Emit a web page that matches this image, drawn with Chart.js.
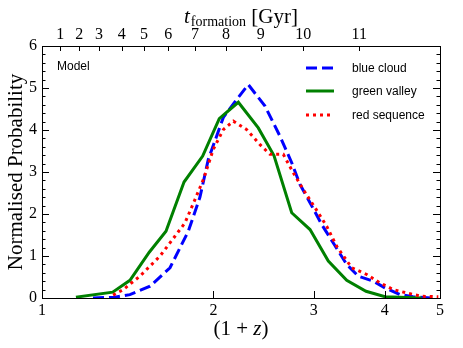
<!DOCTYPE html>
<html>
<head>
<meta charset="utf-8">
<script src="https://cdn.jsdelivr.net/npm/chart.js@4.4.1/dist/chart.umd.min.js"></script>
<style>
  html, body { margin: 0; padding: 0; background: #fff; }
  #wrap { width: 463px; height: 348px; }
</style>
</head>
<body>
<div id="wrap"><canvas id="myChart"></canvas></div>
<script>
'use strict';

// (1+z) values and normalised probability
const blueX = [1.229, 1.343, 1.427, 1.548, 1.678, 1.807, 1.894, 1.959, 2.082, 2.198, 2.303, 2.464, 2.618, 2.745, 2.839, 2.956, 3.099, 3.248, 3.428, 3.593, 3.818, 4.003, 4.254, 4.483, 4.822];
const blueY = [0.0, 0.02, 0.08, 0.28, 0.72, 1.59, 2.4, 3.3, 4.3, 4.73, 5.08, 4.57, 3.85, 3.22, 2.7, 2.27, 1.75, 1.31, 0.80, 0.52, 0.40, 0.24, 0.08, 0.03, 0.0];

const greenX = [1.147, 1.331, 1.427, 1.543, 1.651, 1.776, 1.915, 2.048, 2.212, 2.398, 2.555, 2.745, 2.956, 3.183, 3.429, 3.707, 4.003, 4.643];
const greenY = [0.02, 0.14, 0.42, 1.09, 1.59, 2.76, 3.38, 4.27, 4.66, 4.05, 3.39, 2.03, 1.63, 0.88, 0.42, 0.16, 0.03, 0.0];

const redX = [1.333, 1.389, 1.486, 1.612, 1.712, 1.783, 1.857, 1.920, 1.999, 2.082, 2.168, 2.288, 2.415, 2.514, 2.653, 2.763, 2.877, 3.016, 3.162, 3.293, 3.499, 3.718, 3.923, 4.140, 4.371, 4.643, 4.966];
const redY = [0.07, 0.2, 0.52, 1.0, 1.47, 1.79, 2.35, 2.82, 3.54, 4.01, 4.21, 4.01, 3.65, 3.42, 3.42, 2.98, 2.58, 2.15, 1.71, 1.23, 0.72, 0.56, 0.36, 0.2, 0.12, 0.04, 0.03];

// axis ticks
const xTicks = [1, 2, 3, 4, 5];
const yTicks = [0, 1, 2, 3, 4, 5, 6];
// top axis: formation time [Gyr] and where it sits in (1+z)
const tLabels = ['1', '2', '3', '4', '5', '6', '7', '8', '9', '10', '11'];
const tPos = [1.0768, 1.1628, 1.2592, 1.3803, 1.5106, 1.6665, 1.8566, 2.1045, 2.4215, 2.8767, 3.6078];

const seriesNames = ['blue cloud', 'green valley', 'red sequence'];

const SERIF = "'Liberation Serif', 'DejaVu Serif', serif";
const SANS = "'Liberation Sans', Arial, sans-serif";

function pts(xs, ys) {
    return xs.map((x, i) => ({ x: x, y: ys[i] }));
}

/**
 * 枠の内向きの目盛り・タイトル・凡例
 */
const decorations = {
    id: 'decorations',
    afterDatasetsDraw(chart) {
        const { ctx, chartArea: a, scales } = chart;
        ctx.save();
        ctx.strokeStyle = '#000';
        ctx.lineWidth = 1;
        ctx.beginPath();
        // left / right: major every 1, minor every 0.2
        for (let k = 0; k <= 30; k++) {
            const v = k / 5;
            const y = Math.round(scales.y.getPixelForValue(v)) + 0.5;
            const len = (k % 5 === 0) ? 7 : 3.5;
            ctx.moveTo(a.left, y); ctx.lineTo(a.left + len, y);
            ctx.moveTo(a.right, y); ctx.lineTo(a.right - len, y);
        }
        // bottom
        xTicks.forEach(v => {
            const x = Math.round(scales.x.getPixelForValue(v)) + 0.5;
            ctx.moveTo(x, a.bottom); ctx.lineTo(x, a.bottom - 7);
        });
        // top
        tPos.forEach(v => {
            const x = Math.round(scales.x2.getPixelForValue(v)) + 0.5;
            ctx.moveTo(x, a.top); ctx.lineTo(x, a.top + 5);
        });
        ctx.stroke();

        // top title: t_formation [Gyr]
        ctx.fillStyle = '#000';
        ctx.textBaseline = 'alphabetic';
        ctx.textAlign = 'left';
        const fT = 'italic 21px ' + SERIF;
        const fSub = '14px ' + SERIF;
        const fR = '21px ' + SERIF;
        ctx.font = fT; const w1 = ctx.measureText('t').width;
        ctx.font = fSub; const w2 = ctx.measureText('formation').width;
        ctx.font = fR; const w3 = ctx.measureText(' [Gyr]').width;
        const cx = (a.left + a.right) / 2;
        let x0 = cx - (w1 + 1 + w2 + w3) / 2;
        const base = 23;
        ctx.font = fT; ctx.fillText('t', x0, base); x0 += w1 + 1;
        ctx.font = fSub; ctx.fillText('formation', x0, base + 3); x0 += w2;
        ctx.font = fR; ctx.fillText(' [Gyr]', x0, base);

        // bottom title: (1 + z)
        const pA = '(1 + ', pB = 'z', pC = ')';
        ctx.font = fR; const b1 = ctx.measureText(pA).width;
        ctx.font = fT; const b2 = ctx.measureText(pB).width;
        ctx.font = fR; const b3 = ctx.measureText(pC).width;
        let bx = cx - (b1 + b2 + b3) / 2;
        const bb = 335;
        ctx.font = fR; ctx.fillText(pA, bx, bb); bx += b1;
        ctx.font = fT; ctx.fillText(pB, bx, bb); bx += b2;
        ctx.font = fR; ctx.fillText(pC, bx, bb);

        // "Model" label
        ctx.font = '12px ' + SANS;
        ctx.textBaseline = 'middle';
        ctx.fillText('Model', 57, 67);

        // legend
        const rows = [68, 91, 115];
        chart.data.datasets.forEach((ds, i) => {
            const y = rows[i];
            ctx.save();
            ctx.strokeStyle = ds.borderColor;
            ctx.lineWidth = ds.borderWidth;
            ctx.setLineDash(ds.borderDash || []);
            ctx.lineCap = 'butt';
            ctx.beginPath();
            ctx.moveTo(306, y); ctx.lineTo(334, y);
            ctx.stroke();
            ctx.restore();
            ctx.fillStyle = '#000';
            ctx.font = '12px ' + SANS;
            ctx.fillText(ds.label, 352, y + 1);
        });
        ctx.restore();
    }
};

const ctx = document.getElementById('myChart');
new Chart(ctx, {
    type: 'line',
    data: {
        datasets: [
            {
                label: seriesNames[0],
                data: pts(blueX, blueY),
                borderColor: '#0000ff',
                borderWidth: 3,
                borderDash: [11, 5],
                order: 3
            },
            {
                label: seriesNames[1],
                data: pts(greenX, greenY),
                borderColor: '#008000',
                borderWidth: 3,
                order: 2
            },
            {
                label: seriesNames[2],
                data: pts(redX, redY),
                borderColor: '#ff0000',
                borderWidth: 3,
                borderDash: [3, 4],
                order: 1
            }
        ]
    },
    options: {
        responsive: true,
        maintainAspectRatio: false,
        animation: false,
        layout: { padding: 0 },
        elements: {
            point: { radius: 0 },
            line: { tension: 0, fill: false, borderCapStyle: 'butt' }
        },
        plugins: {
            legend: { display: false },
            tooltip: { enabled: false }
        },
        scales: {
            x: {
                type: 'logarithmic',
                position: 'bottom',
                min: 1,
                max: 5,
                afterBuildTicks: s => { s.ticks = xTicks.map(v => ({ value: v })); },
                afterFit: s => { s.height = 50; },
                ticks: {
                    autoSkip: false,
                    maxRotation: 0,
                    padding: 3,
                    color: '#000',
                    font: { family: SERIF, size: 16 },
                    callback: v => String(v)
                },
                grid: { drawOnChartArea: false, drawTicks: false },
                border: { color: '#000', width: 1 }
            },
            x2: {
                type: 'logarithmic',
                position: 'top',
                min: 1,
                max: 5,
                afterBuildTicks: s => { s.ticks = tPos.map(v => ({ value: v })); },
                afterFit: s => { s.height = 46; },
                ticks: {
                    autoSkip: false,
                    maxRotation: 0,
                    padding: 2,
                    color: '#000',
                    font: { family: SERIF, size: 16 },
                    callback: (v, i) => tLabels[i]
                },
                grid: { drawOnChartArea: false, drawTicks: false },
                border: { color: '#000', width: 1 }
            },
            y: {
                position: 'left',
                min: 0,
                max: 6,
                afterBuildTicks: s => { s.ticks = yTicks.map(v => ({ value: v })); },
                afterFit: s => { s.width = 42; },
                ticks: {
                    padding: 5,
                    color: '#000',
                    font: { family: SERIF, size: 16 }
                },
                title: {
                    display: true,
                    text: 'Normalised Probability',
                    color: '#000',
                    font: { family: SERIF, size: 21 },
                    padding: { top: 4, bottom: 0 }
                },
                grid: { drawOnChartArea: false, drawTicks: false },
                border: { color: '#000', width: 1 }
            },
            y2: {
                position: 'right',
                min: 0,
                max: 6,
                afterFit: s => { s.width = 23; },
                ticks: { display: false },
                grid: { drawOnChartArea: false, drawTicks: false },
                border: { color: '#000', width: 1 }
            }
        }
    },
    plugins: [decorations]
});
</script>
</body>
</html>
